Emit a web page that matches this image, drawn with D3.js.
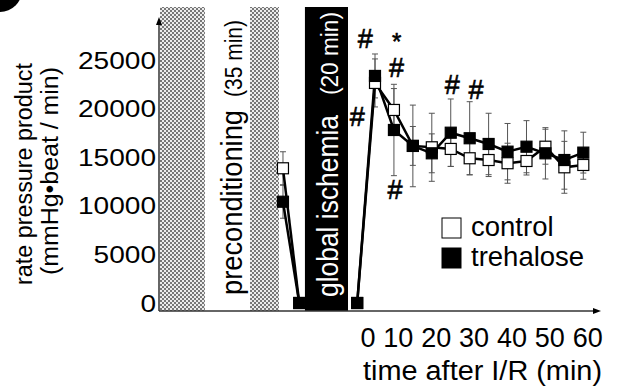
<!DOCTYPE html>
<html>
<head>
<meta charset="utf-8">
<script src="https://cdn.jsdelivr.net/npm/d3@7"></script>
<style>
  body { margin: 0; background: #fff; }
  text { font-family: Arial, "Liberation Sans", sans-serif; }
</style>
</head>
<body>
<div id="chart"></div>
<script>
// reperfusion time points (min after I/R)
const times = [0, 5, 10, 15, 20, 25, 30, 35, 40, 45, 50, 55];
const ctrlMean = [22640, 19860, 16160, 16020, 15850, 14890, 14710, 14380, 14610, 16080, 13960, 14200];
const ctrlSD = [2470, 2200, 2000, 3500, 1800, 1700, 1700, 2060, 1440, 1800, 2670, 1470];
const treMean = [23360, 17800, 16160, 15400, 17520, 16950, 16360, 15570, 16080, 15400, 14710, 15470];
const treSD = [2260, 4700, 4200, 2000, 3470, 3760, 3160, 2900, 2680, 2640, 3000, 2100];

// points before reperfusion (pre, start of ischemia, end of ischemia), placed on the same minute axis
const preTimes = [-24.3, -20, -4.7];
const preCtrl = [13860, 0, 0];
const preCtrlSD = [1700, 0, 0];
const preTre = [10420, 0, 0];
const preTreSD = [1700, 0, 0];

const yTicks = [0, 5000, 10000, 15000, 20000, 25000];
const xTickLabels = [0, 10, 20, 30, 40, 50, 60];

// significance marks [time, value, symbol]
const marks = [
  [-2.6, 27200, '#'], [-4.7, 19200, '#'],
  [5.7, 26950, '*'], [5.7, 24300, '#'], [5.3, 11700, '#'],
  [20.4, 22500, '#'], [26.7, 22000, '#']
];

const width = 617, height = 389;
const svg = d3.select('#chart').append('svg')
  .attr('width', width).attr('height', height);

const x = d3.scaleLinear().domain([0, 55]).range([375, 583.3]);
const y = d3.scaleLinear().domain([0, 25000]).range([303, 60]);
const axisY = 311, axisX = 159, topY = 7;

// stipple pattern for preconditioning
const defs = svg.append('defs');
const pat = defs.append('pattern').attr('id', 'stip')
  .attr('width', 4).attr('height', 4).attr('patternUnits', 'userSpaceOnUse');
pat.append('rect').attr('width', 4).attr('height', 4).attr('fill', '#ececec');
pat.append('rect').attr('x', 0).attr('y', 0).attr('width', 2).attr('height', 2).attr('fill', '#777');
pat.append('rect').attr('x', 2).attr('y', 2).attr('width', 2).attr('height', 2).attr('fill', '#777');

// panel circle (cut off)
svg.append('circle').attr('cx', 0).attr('cy', -10).attr('r', 22).attr('fill', '#000');

// rotated label helper: text starting at (bx, startY) reading upward, fit to length
function vtext(bx, startY, len, size, str, fill) {
  return svg.append('text')
    .attr('transform', `translate(${bx},${startY}) rotate(-90)`)
    .attr('font-size', size).attr('fill', fill)
    .attr('textLength', len).attr('lengthAdjust', 'spacingAndGlyphs')
    .text(str);
}

// preconditioning band
svg.append('rect')
  .attr('x', axisX + 1).attr('y', topY)
  .attr('width', x(-25.35) - axisX - 1).attr('height', axisY - topY)
  .attr('fill', 'url(#stip)');
svg.append('rect')
  .attr('x', x(-44.9)).attr('y', topY)
  .attr('width', x(-33.0) - x(-44.9)).attr('height', axisY - topY)
  .attr('fill', '#fff');
vtext(242, 295, 185, 29.5, 'preconditioning', '#000');
vtext(242, 97, 77, 23, '(35 min)', '#000');

// global ischemia band
svg.append('rect')
  .attr('x', x(-18.5)).attr('y', topY)
  .attr('width', x(-7.13) - x(-18.5)).attr('height', axisY - topY)
  .attr('fill', '#000');
vtext(338, 297, 182, 29, 'global ischemia', '#fff');
vtext(338, 95, 83, 23, '(20 min)', '#fff');

// axes
svg.append('line').attr('x1', axisX).attr('x2', axisX)
  .attr('y1', axisY).attr('y2', 24).attr('stroke', '#333').attr('stroke-width', 1.5);
svg.append('path').attr('d', `M${axisX - 3},25 L${axisX},17 L${axisX + 3},25 Z`).attr('fill', '#000');
svg.append('line').attr('x1', axisX).attr('x2', 594)
  .attr('y1', axisY).attr('y2', axisY).attr('stroke', '#333').attr('stroke-width', 1.5);
svg.append('path').attr('d', `M593,${axisY - 3} L601,${axisY} L593,${axisY + 3} Z`).attr('fill', '#000');

svg.append('g').selectAll('text').data(yTicks).join('text')
  .attr('x', 156).attr('y', d => y(d))
  .attr('dy', '0.36em')
  .attr('text-anchor', 'end')
  .attr('font-size', 24)
  .attr('textLength', d => String(d).length * 15.6)
  .attr('lengthAdjust', 'spacingAndGlyphs')
  .text(d => d);

svg.append('g').selectAll('text').data(xTickLabels).join('text')
  .attr('x', d => x(d) + 0.5).attr('y', 347)
  .attr('text-anchor', 'end')
  .attr('font-size', 27)
  .text(d => d);

svg.append('text').attr('x', 363).attr('y', 380)
  .attr('font-size', 27)
  .attr('textLength', 239).attr('lengthAdjust', 'spacingAndGlyphs')
  .text('time after I/R (min)');

svg.append('text')
  .attr('transform', 'translate(32,285) rotate(-90)')
  .attr('font-size', 23)
  .attr('textLength', 222).attr('lengthAdjust', 'spacingAndGlyphs')
  .text('rate pressure product');
svg.append('text')
  .attr('transform', 'translate(58,275) rotate(-90)')
  .attr('font-size', 23)
  .attr('textLength', 208).attr('lengthAdjust', 'spacingAndGlyphs')
  .text('(mmHg\u2022beat / min)');

// series data
function build(pt, pm, ps, rm, rs) {
  const pre = pt.map((t, i) => ({ t, v: pm[i], e: ps[i] }));
  const rep = times.map((t, i) => ({ t, v: rm[i], e: rs[i] }));
  return { seg1: pre.slice(0, 2), seg2: [pre[2]].concat(rep), all: pre.concat(rep) };
}
const series = [
  { name: 'control', fill: '#fff', d: build(preTimes, preCtrl, preCtrlSD, ctrlMean, ctrlSD) },
  { name: 'trehalose', fill: '#000', d: build(preTimes, preTre, preTreSD, treMean, treSD) }
];

const line = d3.line().x(d => x(d.t)).y(d => y(d.v));
const cap = 3;

// error bars
series.forEach(s => {
  const g = svg.append('g').attr('stroke', '#555').attr('stroke-width', 1);
  const pts = s.d.all.filter(d => d.e > 0);
  g.selectAll('line.v').data(pts).join('line')
    .attr('x1', d => x(d.t)).attr('x2', d => x(d.t))
    .attr('y1', d => y(d.v + d.e)).attr('y2', d => y(d.v - d.e));
  g.selectAll('line.t').data(pts).join('line')
    .attr('x1', d => x(d.t) - cap).attr('x2', d => x(d.t) + cap)
    .attr('y1', d => y(d.v + d.e)).attr('y2', d => y(d.v + d.e));
  g.selectAll('line.b').data(pts).join('line')
    .attr('x1', d => x(d.t) - cap).attr('x2', d => x(d.t) + cap)
    .attr('y1', d => y(d.v - d.e)).attr('y2', d => y(d.v - d.e));
});

// lines and markers
series.forEach(s => {
  [s.d.seg1, s.d.seg2].forEach(seg => {
    svg.append('path').datum(seg).attr('d', line)
      .attr('fill', 'none').attr('stroke', '#000').attr('stroke-width', 2.5);
  });
});
const sz = 11;
series.forEach(s => {
  svg.append('g').selectAll('rect').data(s.d.all).join('rect')
    .attr('x', d => x(d.t) - sz / 2).attr('y', d => y(d.v) - sz / 2)
    .attr('width', sz).attr('height', sz)
    .attr('fill', s.fill).attr('stroke', '#000').attr('stroke-width', 1.2);
});

// significance marks
svg.append('g').selectAll('text').data(marks).join('text')
  .attr('x', d => x(d[0])).attr('y', d => y(d[1]))
  .attr('dy', '0.36em')
  .attr('text-anchor', 'middle')
  .attr('font-size', d => d[2] === '*' ? 24 : 27)
  .attr('stroke', '#000').attr('stroke-width', 0.6)
  .text(d => d[2]);

// legend
const legend = svg.append('g');
series.forEach((s, i) => {
  const ly = 218 + i * 30;
  legend.append('rect').attr('x', 442).attr('y', ly)
    .attr('width', 19).attr('height', 20)
    .attr('fill', s.fill).attr('stroke', '#000').attr('stroke-width', 1);
  legend.append('text').attr('x', 471).attr('y', ly + 18)
    .attr('font-size', 27.5).text(s.name);
});
</script>
</body>
</html>
